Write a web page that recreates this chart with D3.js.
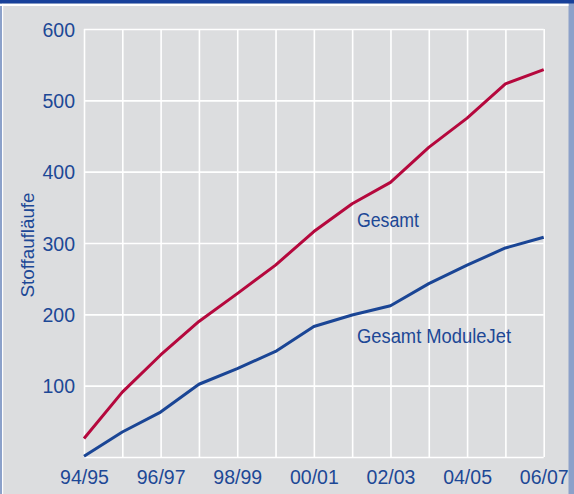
<!DOCTYPE html>
<html>
<head>
<meta charset="utf-8">
<script src="https://cdn.jsdelivr.net/npm/d3@7"></script>
<style>
  html, body { margin: 0; padding: 0; background: #dcdddf; }
  svg { display: block; }
  text { font-family: "Liberation Sans", Arial, sans-serif; fill: #1d4896; }
</style>
</head>
<body>
<script>
// seasons on the x axis
var seasons = ["94/95", "95/96", "96/97", "97/98", "98/99", "99/00", "00/01",
               "01/02", "02/03", "03/04", "04/05", "05/06", "06/07"];
// Stoffaufläufe, total
var gesamt = [26, 91, 143, 190, 229, 269, 316, 355, 385, 434, 475, 523, 543];
// Stoffaufläufe, ModuleJet
var moduleJet = [1, 35, 63, 102, 124, 148, 183, 199, 212, 243, 269, 293, 308];
var yTicks = [0, 100, 200, 300, 400, 500, 600];
var xLabels = ["94/95", "96/97", "98/99", "00/01", "02/03", "04/05", "06/07"];

var W = 574, H = 494;
var plotLeft = 84, plotRight = 543.7, plotTop = 29, plotBottom = 457;

var svg = d3.select("body").append("svg")
  .attr("width", W)
  .attr("height", H);

// frame
svg.append("rect").attr("x", 0).attr("y", 0).attr("width", W).attr("height", H).attr("fill", "#dcdddf");
svg.append("rect").attr("x", 0).attr("y", 0).attr("width", 2).attr("height", H).attr("fill", "#8ca1ca");
svg.append("rect").attr("x", 2).attr("y", 0).attr("width", 1.2).attr("height", H).attr("fill", "#ffffff");
svg.append("rect").attr("x", 568.5).attr("y", 0).attr("width", 6).attr("height", H).attr("fill", "#8ca1ca");
svg.append("rect").attr("x", 0).attr("y", 3.5).attr("width", 568.5).attr("height", 2.5).attr("fill", "#ffffff");
svg.append("rect").attr("x", 0).attr("y", 0).attr("width", W).attr("height", 3.5).attr("fill", "#17409a");

var x = d3.scalePoint()
  .domain(seasons)
  .range([plotLeft, plotRight]);

var y = d3.scaleLinear()
  .domain([0, 600])
  .range([plotBottom, plotTop]);

// horizontal grid + y labels
var yAxis = svg.append("g")
  .attr("transform", "translate(" + plotLeft + ",0)")
  .call(d3.axisLeft(y).tickValues(yTicks).tickSize(-(plotRight - plotLeft)).tickPadding(9)
    .tickFormat(function(d) { return d === 0 ? "" : d; }));
yAxis.select(".domain").remove();
yAxis.selectAll("line").attr("stroke", "#ffffff").attr("stroke-width", 1.6);
yAxis.selectAll("text").style("font-size", "19.5px").attr("fill", "#1d4896").attr("dy", "0.36em");

// vertical grid + x labels
var xAxis = svg.append("g")
  .attr("transform", "translate(0," + plotBottom + ")")
  .call(d3.axisBottom(x).tickSize(-(plotBottom - plotTop)).tickPadding(13)
    .tickFormat(function(d) { return xLabels.indexOf(d) >= 0 ? d : ""; }));
xAxis.select(".domain").remove();
xAxis.selectAll("line").attr("stroke", "#ffffff").attr("stroke-width", 1.6);
xAxis.selectAll("text").style("font-size", "19.5px").attr("fill", "#1d4896");

// y title
svg.append("text")
  .attr("transform", "translate(34,245) rotate(-90)")
  .attr("text-anchor", "middle")
  .style("font-size", "19px")
  .attr("textLength", 105)
  .attr("lengthAdjust", "spacingAndGlyphs")
  .text("Stoffaufläufe");

var line = d3.line()
  .x(function(d, i) { return x(seasons[i]); })
  .y(function(d) { return y(d); });

svg.append("path")
  .datum(gesamt)
  .attr("d", line)
  .attr("fill", "none")
  .attr("stroke", "#b5083d")
  .attr("stroke-width", 3)
  .attr("stroke-linejoin", "round");

svg.append("path")
  .datum(moduleJet)
  .attr("d", line)
  .attr("fill", "none")
  .attr("stroke", "#1a4595")
  .attr("stroke-width", 3)
  .attr("stroke-linejoin", "round");

// series labels
svg.append("text")
  .attr("x", 357).attr("y", 227)
  .style("font-size", "19.5px")
  .attr("textLength", 62)
  .attr("lengthAdjust", "spacingAndGlyphs")
  .text("Gesamt");

svg.append("text")
  .attr("x", 357).attr("y", 343)
  .style("font-size", "19.5px")
  .attr("textLength", 154)
  .attr("lengthAdjust", "spacingAndGlyphs")
  .text("Gesamt ModuleJet");
</script>
</body>
</html>
